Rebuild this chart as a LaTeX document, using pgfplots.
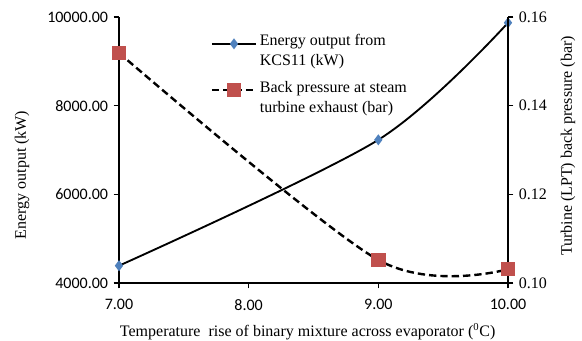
\documentclass[border=0pt]{standalone}
\usepackage{fontspec}
\setmainfont{Liberation Serif}
\newfontfamily\tickfont{Carlito}
\usepackage{pgfplots}
\pgfplotsset{compat=1.18}
\definecolor{xlblue}{RGB}{79,129,189}
\definecolor{xlred}{RGB}{192,80,77}
\begin{document}
\fontsize{12pt}{14pt}\selectfont
\begin{tikzpicture}
\useasboundingbox (-89.25pt,-42.75pt) rectangle (347.25pt,212.25pt);
\begin{axis}[
  scale only axis, width=291.75pt, height=199.5pt,
  xmin=7, xmax=10, ymin=4000, ymax=10000,
  axis y line*=left, axis x line*=bottom,
  axis line style={line width=0.9pt,-},
  xtick={7,8,9,10}, ytick={4000,6000,8000,10000},
  tick style={line width=0.9pt,black},
  tick align=outside, major tick length=4pt,
  /pgf/number format/assume math mode=true,
  xticklabel style={yshift=-4pt,font=\tickfont\fontsize{12pt}{14pt}\selectfont,/pgf/number format/.cd,fixed,fixed zerofill,precision=2},
  yticklabel style={font=\tickfont\fontsize{12pt}{14pt}\selectfont,/pgf/number format/.cd,fixed,fixed zerofill,precision=2,1000 sep={}},
  scaled y ticks=false,
  xlabel={Temperature\ \ rise of binary mixture across evaporator (\textsuperscript{0}C)},
  ylabel={Energy output (kW)},
  xlabel style={at={(axis description cs:0.485,-0.182)},anchor=center},
  ylabel style={at={(axis description cs:-0.249,0.406)},anchor=center},
  clip=false,
]
\addplot[black, line width=1.4pt, smooth, tension=0.5, mark=diamond*, mark size=3pt, mark options={fill=xlblue,draw=xlblue,solid}]
  coordinates {(7,4390) (9,7230) (10,9870)};
\end{axis}
\begin{axis}[
  scale only axis, width=291.75pt, height=199.5pt,
  xmin=7, xmax=10, ymin=0.10, ymax=0.16,
  axis y line*=right, axis x line=none,
  axis line style={line width=0.9pt,-},
  ytick={0.10,0.12,0.14,0.16},
  tick style={line width=0.9pt,black},
  tick align=outside, major tick length=4pt,
  /pgf/number format/assume math mode=true,
  yticklabel style={font=\rmfamily\fontsize{12pt}{14pt}\selectfont,/pgf/number format/.cd,fixed,fixed zerofill,precision=2},
  ylabel={Turbine (LPT) back pressure (bar)},
  ylabel style={at={(axis description cs:1.154,0.515)},anchor=center,rotate=0},
  clip=false,
  legend style={draw=none, fill=none, at={(axis description cs:0.225,0.955)}, anchor=north west,
    font=\fontsize{12pt}{15pt}\selectfont, align=left, row sep=5.5pt},
  legend cell align=left,
  legend image code/.code={\draw[mark repeat=2,mark phase=2,#1] plot coordinates {(0cm,0.2cm) (0.58cm,0.2cm) (1.16cm,0.2cm)};},
]
\addlegendimage{black, line width=1.4pt, mark=diamond*, mark size=3pt, mark options={fill=xlblue,draw=xlblue,solid}}
\addlegendentry{Energy output from\\KCS11 (kW)}
\addplot[black, line width=1.8pt, dash pattern=on 5.5pt off 3pt, smooth, tension=0.5, mark=square*, mark size=4.5pt, mark options={fill=xlred,draw=xlred,solid}]
  coordinates {(7,0.1519) (9,0.1052) (10,0.1031)};
\addlegendentry{Back pressure at steam\\turbine exhaust (bar)}
\end{axis}
\end{tikzpicture}
\end{document}
